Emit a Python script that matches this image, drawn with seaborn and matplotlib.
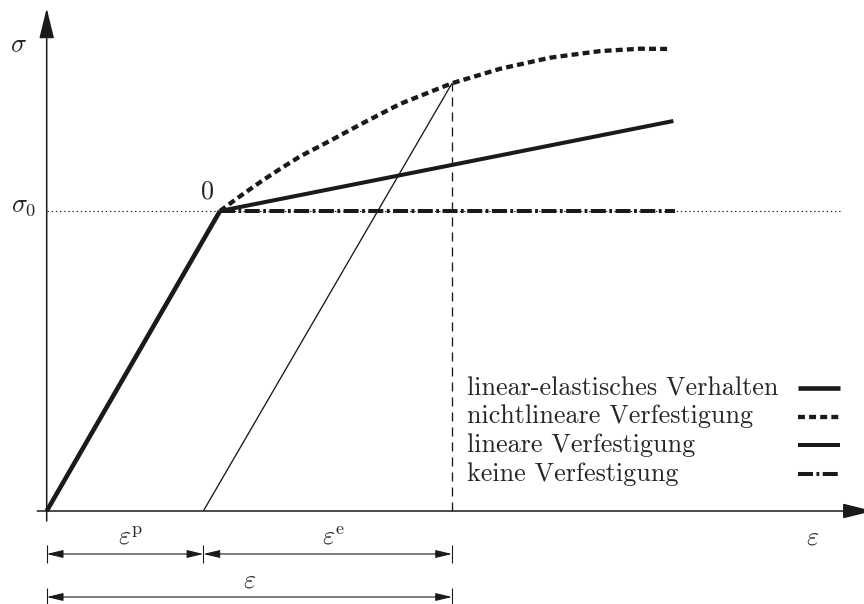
import matplotlib
matplotlib.use("Agg")
import matplotlib.pyplot as plt
import numpy as np
import pandas as pd
import seaborn as sns

# ---- data: strain normalised by yield strain, stress normalised by sigma_0 ----
eps_yield, sig_yield = 1.0, 1.0
eps_plastic = 0.904          # residual strain after unloading
eps_total = 2.339            # total strain at unloading point
sig_peak = 1.426             # stress at unloading point (nonlinear hardening)

elastic_eps = [0.0, 1.0]
elastic_sig = [0.0, 1.0]

nonlinear_eps = [1.000, 1.115, 1.231, 1.346, 1.462, 1.635, 1.808,
                 2.039, 2.339, 2.616, 2.904, 3.193, 3.424, 3.597]
nonlinear_sig = [1.000, 1.049, 1.096, 1.140, 1.182, 1.234, 1.288,
                 1.357, 1.426, 1.474, 1.511, 1.533, 1.541, 1.540]

linear_eps = [1.0, 3.616]
linear_sig = [1.0, 1.300]

perfect_eps = [1.0, 3.626]
perfect_sig = [1.0, 1.0]

unload_eps = [eps_plastic, eps_total]
unload_sig = [0.0, sig_peak]

legend_labels = [
    "linear-elastisches Verhalten",
    "nichtlineare Verfestigung",
    "lineare Verfestigung",
    "keine Verfestigung",
]

# ---- styles ----
sns.set_theme(style="white")
plt.rcParams["font.family"] = ["cmr10", "DejaVu Serif"]
plt.rcParams["mathtext.fontset"] = "cm"
plt.rcParams["axes.unicode_minus"] = False
plt.rcParams["lines.scale_dashes"] = False
plt.rcParams["lines.solid_capstyle"] = "butt"
plt.rcParams["lines.dash_capstyle"] = "butt"

FS = 18.8
series_styles = [
    dict(lw=3.3, ls="-"),
    dict(lw=3.1, ls=(0, (5.0, 3.0))),
    dict(lw=2.9, ls="-"),
    dict(lw=2.9, ls=(0, (10.8, 2.5, 2.0, 2.5))),
]

W, H = 864, 604
X0, Y0 = 46.7, 511.0      # pixel position of the origin
SX, SY = 173.3, 300.0     # pixels per unit strain / stress


def at(xp, yp):
    """Convert a pixel position on the canvas into data coordinates."""
    return (xp - X0) / SX, (Y0 - yp) / SY


fig = plt.figure(figsize=(W / 100, H / 100), dpi=100)
ax = fig.add_axes([0, 0, 1, 1])
ax.set_xlim(at(0, 0)[0], at(W, 0)[0])
ax.set_ylim(at(0, H)[1], at(0, 0)[1])
ax.axis("off")

# yield stress reference line
x_end = at(840, 0)[0]
ax.plot([0, x_end], [sig_yield, sig_yield], color="k", lw=0.8,
        ls=(0, (1.0, 2.0)), zorder=1)

# material curves
curves = [
    (elastic_eps, elastic_sig),
    (nonlinear_eps, nonlinear_sig),
    (linear_eps, linear_sig),
    (perfect_eps, perfect_sig),
]
for (xs, ys), st in zip(curves, series_styles):
    df = pd.DataFrame({"eps": xs, "sig": ys})
    sns.lineplot(data=df, x="eps", y="sig", ax=ax, color="k",
                 linewidth=st["lw"], linestyle=st["ls"], sort=False,
                 estimator=None, zorder=3)

# elastic unloading path and its strain marker
sns.lineplot(x=unload_eps, y=unload_sig, ax=ax, color="k", linewidth=0.95,
             sort=False, estimator=None, zorder=2)
ax.vlines(eps_total, 0, sig_peak, color="k", lw=0.95,
          linestyles=[(0, (6.5, 4.3))], zorder=2)

# coordinate axes with arrow heads
axis_arrow = dict(arrowstyle="-|>,head_length=18.7,head_width=4.6",
                  mutation_scale=1, color="k", lw=1.1, shrinkA=0, shrinkB=0)
ax.annotate("", xy=at(873, Y0), xytext=at(37.3, Y0),
            arrowprops=axis_arrow, annotation_clip=False)
ax.annotate("", xy=at(X0, 8.3), xytext=at(X0, 521),
            arrowprops=axis_arrow, annotation_clip=False)

# strain dimension lines
dim_arrow = dict(arrowstyle="<|-|>,head_length=10,head_width=2.4",
                 mutation_scale=1, color="k", lw=0.8, shrinkA=0, shrinkB=0)
y_dim1 = at(0, 554)[1]
y_dim2 = at(0, 597)[1]
ax.annotate("", xy=(eps_plastic, y_dim1), xytext=(0, y_dim1),
            arrowprops=dim_arrow)
ax.annotate("", xy=(eps_total, y_dim1), xytext=(eps_plastic, y_dim1),
            arrowprops=dim_arrow)
ax.annotate("", xy=(eps_total, y_dim2), xytext=(0, y_dim2),
            arrowprops=dim_arrow)
tick1 = (at(0, 545)[1], at(0, 563)[1])
tick2 = (at(0, 588)[1], at(0, 606)[1])
for xv in (0, eps_plastic, eps_total):
    ax.plot([xv, xv], tick1, color="k", lw=0.8, zorder=2)
for xv in (0, eps_total):
    ax.plot([xv, xv], tick2, color="k", lw=0.8, zorder=2)

# labels
ax.text(*at(18, 45), r"$\sigma$", fontsize=FS, ha="center", va="center")
ax.text(*at(24, 206), r"$\sigma_0$", fontsize=FS, ha="center", va="center")
ax.text(*at(208, 192), "0", fontsize=FS, ha="center", va="center")
ax.text(*at(813, 538), r"$\varepsilon$", fontsize=FS, ha="center", va="center")
ax.text(eps_plastic / 2 + 6 / SX, at(0, 538)[1], r"$\varepsilon^{\mathrm{p}}$",
        fontsize=FS, ha="center", va="center")
ax.text((eps_plastic + eps_total) / 2 + 6 / SX, at(0, 538)[1],
        r"$\varepsilon^{\mathrm{e}}$", fontsize=FS, ha="center", va="center")
ax.text(eps_total / 2, at(0, 581)[1], r"$\varepsilon$", fontsize=FS,
        ha="center", va="center")

# legend: text on the left, line samples on the right
baselines = [395, 423.5, 452, 480.5]
for label, st, yb in zip(legend_labels, series_styles, baselines):
    ax.text(*at(466.7, yb), label, fontsize=FS, ha="left", va="baseline")
    xa, ys = at(798, yb - 7)
    xb, _ = at(840, yb - 7)
    ax.plot([xa, xb], [ys, ys], color="k", lw=st["lw"], ls=st["ls"])

fig.savefig("out.png", dpi=100)
